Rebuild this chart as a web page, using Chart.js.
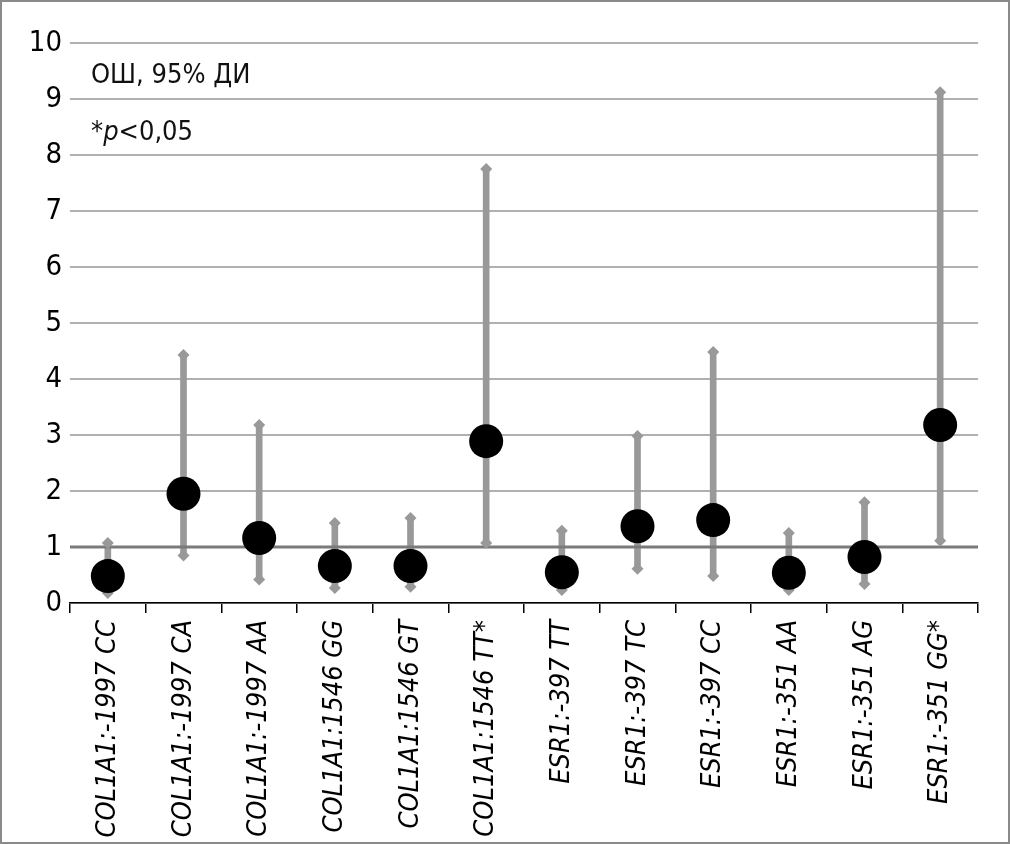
<!DOCTYPE html>
<html>
<head>
<meta charset="utf-8">
<script src="https://cdn.jsdelivr.net/npm/chart.js@4.4.0/dist/chart.umd.min.js"></script>
<style>
  html, body { margin: 0; padding: 0; background: #fff; }
  #wrap { position: relative; width: 1010px; height: 844px; }
  #frame { position: absolute; left: 0; top: 0; width: 1010px; height: 844px;
           box-sizing: border-box; border: 2px solid #8a8a8a; pointer-events: none; }
  .note { position: absolute; left: 91px; font-family: "Liberation Sans Narrow", "DejaVu Sans Condensed", sans-serif;
          font-size: 27px; color: #111; line-height: 1; }
</style>
</head>
<body>
<div id="wrap">
  <canvas id="chart" width="1010" height="844"></canvas>
  <div class="note" style="top:60px;">ОШ, 95% ДИ</div>
  <div class="note" style="top:117px;">*<i>p</i>&lt;0,05</div>
  <div id="frame"></div>
</div>
<script>
// --- data (OR with 95% CI) ---
const categories = [
  "COL1A1:-1997 CC", "COL1A1:-1997 CA", "COL1A1:-1997 AA",
  "COL1A1:1546 GG", "COL1A1:1546 GT", "COL1A1:1546 TT*",
  "ESR1:-397 TT", "ESR1:-397 TC", "ESR1:-397 CC",
  "ESR1:-351 AA", "ESR1:-351 AG", "ESR1:-351 GG*"
];
const orValues = [0.48, 1.95, 1.16, 0.66, 0.66, 2.89, 0.55, 1.37, 1.48, 0.54, 0.82, 3.18];
const ciLow    = [0.18, 0.85, 0.42, 0.27, 0.29, 1.07, 0.23, 0.61, 0.48, 0.23, 0.34, 1.11];
const ciHigh   = [1.07, 4.43, 3.18, 1.43, 1.52, 7.75, 1.29, 2.98, 4.48, 1.25, 1.80, 9.12];
const refValue = 1;

const FONT = "'Liberation Sans Narrow', 'DejaVu Sans Condensed', sans-serif";
const GRAY = "#999999";

// horizontal reference line at OR = 1
const refLine = {
  id: "refLine",
  afterDatasetDraw(chart, args) {
    if (args.index !== 0) return;
    const { ctx, chartArea, scales } = chart;
    const y = scales.y.getPixelForValue(refValue);
    ctx.save();
    ctx.strokeStyle = "#7a7a7a";
    ctx.lineWidth = 3;
    ctx.beginPath();
    ctx.moveTo(chartArea.left, y);
    ctx.lineTo(chartArea.right, y);
    ctx.stroke();
    ctx.restore();
  }
};

new Chart(document.getElementById("chart"), {
  type: "bar",
  data: {
    labels: categories,
    datasets: [
      {
        label: "CI",
        data: ciLow.map((l, i) => [l, ciHigh[i]]),
        backgroundColor: GRAY,
        barThickness: 6,
        order: 3,
      },
      {
        type: "line",
        label: "upper",
        data: ciHigh,
        showLine: false,
        pointStyle: "rectRot",
        pointRadius: 6,
        pointBackgroundColor: GRAY,
        pointBorderWidth: 0,
        order: 2,
      },
      {
        type: "line",
        label: "lower",
        data: ciLow,
        showLine: false,
        pointStyle: "rectRot",
        pointRadius: 6,
        pointBackgroundColor: GRAY,
        pointBorderWidth: 0,
        order: 2,
      },
      {
        type: "line",
        label: "OR",
        data: orValues,
        showLine: false,
        pointRadius: 17,
        pointBackgroundColor: "#000",
        pointBorderWidth: 0,
        order: 0,
      },
    ],
  },
  options: {
    responsive: false,
    animation: false,
    layout: { padding: { top: 43, right: 32, left: 0, bottom: 0 } },
    plugins: { legend: { display: false }, tooltip: { enabled: false } },
    scales: {
      x: {
        offset: true,
        grid: { offset: true, drawOnChartArea: false, color: "#000", lineWidth: 1.5, tickLength: 10 },
        border: { display: true, color: "#000", width: 1.5 },
        ticks: {
          color: "#000",
          minRotation: 90,
          maxRotation: 90,
          padding: 7,
          font: { family: FONT, size: 27, style: "italic" },
        },
        afterFit(scale) { scale.height = 844 - 603; },
      },
      y: {
        min: 0,
        max: 10,
        ticks: { stepSize: 1, color: "#000", padding: 8, font: { family: FONT, size: 29 } },
        grid: { color: "#b0b0b0", lineWidth: 2, drawTicks: false },
        border: { display: false },
        afterFit(scale) { scale.width = 70; },
      },
    },
  },
  plugins: [refLine],
});
</script>
</body>
</html>
